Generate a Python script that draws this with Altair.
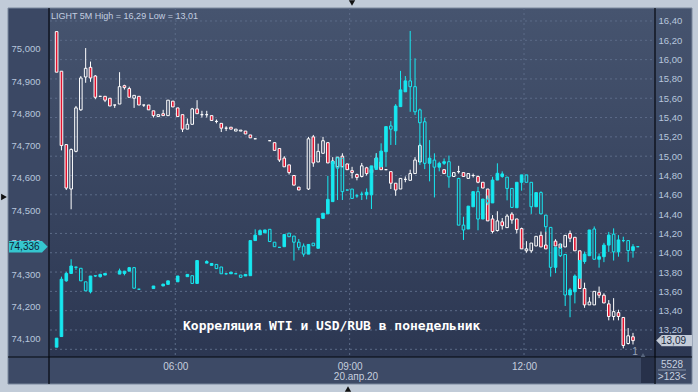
import altair as alt
import pandas as pd

# ---------------- data ----------------
slot_start_min = 235      # first 5-minute candle: 03:55
slot_minutes = 5

# LIGHT (WTI) 5M candles, right axis
wti_open = [16.29, 15.88, 15.12, 14.66, 15.05, 15.48, 15.82, 15.92, 15.83, 15.62,
            15.62, 15.60, 15.53, 15.54, 15.73, 15.70, 15.60, 15.62, 15.53, 15.53,
            15.47, 15.41, 15.44, 15.42, 15.57, 15.50, 15.43, 15.28, 15.33, 15.49,
            15.43, 15.43, 15.42, 15.36, 15.34, 15.29, 15.30, 15.26, 15.26, 15.26,
            15.22, 15.18, None, None, 15.16, 15.14, 15.08, 14.98, 14.91, 14.80,
            14.68, None, 14.66, 15.20, 14.94, 15.03, 15.14, 14.92, 14.89, 15.00,
            14.92, 14.85, 14.81, 14.79, 14.88, 14.83, 14.88, 14.94, 14.86, 14.84,
            14.72, 14.66, 14.76, 14.75, 14.82, 14.94, None, None, None, None,
            14.86, None, 14.79, 14.84, 14.83, 14.77, 14.80, 14.79, 14.73, 14.66,
            14.35, 14.23, 14.32, 14.26, 14.40, 14.35, 14.25, 14.02, 14.02, 14.07,
            14.18, 14.08, None, 14.12, 14.09, 14.06, 14.20, 14.16, 14.02, 13.63,
            13.46, 13.46, 13.59, 13.56, 13.47, 13.34, 13.38, 13.33, 13.06, 13.13]
wti_high = [16.29, 15.88, 15.12, 15.08, 15.52, 15.83, 16.12, 15.98, 15.84, 15.62,
            15.62, 15.60, 15.53, 15.87, 15.74, 15.72, 15.63, 15.62, 15.53, 15.53,
            15.47, 15.43, 15.48, 15.58, 15.57, 15.50, 15.43, 15.39, 15.50, 15.58,
            15.47, 15.47, 15.42, 15.38, 15.34, 15.31, 15.30, 15.28, 15.27, 15.26,
            15.22, 15.18, None, None, 15.16, 15.14, 15.08, 15.00, 14.91, 14.80,
            14.68, None, 15.20, 15.22, 15.13, 15.20, 15.14, 14.99, 14.99, 15.03,
            14.92, 14.89, 14.82, 14.93, 14.89, 14.87, 15.03, 14.94, 14.86, 14.84,
            14.72, 14.77, 14.79, 14.86, 14.99, 15.13, None, None, None, None,
            14.86, None, 14.83, 14.90, 14.83, 14.82, 14.82, 14.80, 14.73, 14.66,
            14.39, 14.43, 14.36, 14.40, 14.42, 14.35, 14.26, 14.12, 14.10, 14.17,
            14.22, 14.22, None, 14.14, 14.09, 14.18, 14.23, 14.16, 14.02, 13.69,
            13.54, 13.60, 13.65, 13.58, 13.51, 13.53, 13.41, 13.33, 13.22, 13.17]
wti_low = [15.87, 15.06, 14.65, 14.45, 15.04, 15.47, 15.76, 15.77, 15.59, 15.62,
           15.56, 15.52, 15.50, 15.54, 15.69, 15.61, 15.50, 15.53, 15.51, 15.48,
           15.40, 15.41, 15.42, 15.42, 15.51, 15.41, 15.25, 15.28, 15.33, 15.44,
           15.40, 15.40, 15.37, 15.34, 15.25, 15.26, 15.28, 15.26, 15.26, 15.23,
           15.19, 15.18, None, None, 15.16, 15.06, 14.94, 14.89, 14.81, 14.70,
           14.65, None, 14.65, 14.89, 14.94, 15.03, 14.93, 14.92, 14.89, 14.89,
           14.86, 14.77, 14.75, 14.78, 14.80, 14.83, 14.88, 14.86, 14.86, 14.66,
           14.59, 14.66, 14.73, 14.75, 14.82, 14.94, None, None, None, None,
           14.82, None, 14.79, 14.82, 14.79, 14.77, 14.78, 14.72, 14.67, 14.33,
           14.20, 14.22, 14.24, 14.26, 14.30, 14.20, 14.04, 14.00, 14.00, 14.07,
           14.06, 14.04, None, 14.07, 14.05, 14.06, 14.11, 14.02, 13.63, 13.43,
           13.46, 13.46, 13.53, 13.48, 13.30, 13.30, 13.30, 13.01, 13.05, 13.05]
wti_close = [15.87, 15.11, 14.67, 15.07, 15.50, 15.81, 15.91, 15.81, 15.61, 15.62,
             15.58, 15.52, 15.53, 15.72, 15.71, 15.61, 15.63, 15.53, 15.53, 15.48,
             15.42, 15.43, 15.42, 15.58, 15.51, 15.41, 15.28, 15.33, 15.49, 15.44,
             15.43, 15.43, 15.37, 15.36, 15.29, 15.29, 15.28, 15.28, 15.27, 15.23,
             15.19, 15.18, None, None, 15.16, 15.06, 14.96, 14.89, 14.83, 14.70,
             14.65, None, 15.18, 14.93, 15.05, 15.16, 14.93, 14.95, 14.99, 14.89,
             14.86, 14.83, 14.78, 14.90, 14.82, 14.86, 14.98, 14.86, 14.86, 14.72,
             14.65, 14.77, 14.76, 14.82, 14.96, 15.11, None, None, None, None,
             14.82, None, 14.83, 14.84, 14.79, 14.82, 14.80, 14.73, 14.67, 14.33,
             14.22, 14.33, 14.28, 14.38, 14.34, 14.24, 14.04, 14.04, 14.10, 14.17,
             14.06, 14.04, None, 14.07, 14.05, 14.18, 14.15, 14.02, 13.63, 13.46,
             13.49, 13.60, 13.56, 13.48, 13.34, 13.39, 13.34, 13.04, 13.14, 13.09]

# USD/RUB 5M candles, left axis
usd_open = [74.074, 74.107, 74.280, 74.303, 74.323, 74.319, 74.277, 74.246, 74.296, 74.293,
            74.298, None, None, 74.301, 74.303, 74.310, 74.321, 74.254, None, None,
            74.256, None, 74.264, 74.269, None, 74.277, None, 74.293, 74.296, 74.272,
            None, 74.335, 74.328, 74.331, 74.323, 74.302, 74.302, 74.302, 74.298, 74.295,
            74.296, 74.405, 74.423, 74.429, 74.440, 74.400, 74.384, 74.386, 74.428, 74.419,
            74.400, 74.388, 74.363, 74.397, 74.381, 74.474, 74.488, 74.526, 74.662, 74.661,
            74.562, 74.565, 74.544, 74.549, 74.547, 74.547, 74.626, 74.634, 74.681, 74.761,
            74.746, 74.821, 74.867, 74.901, 74.883, 74.811, 74.774, 74.645, 74.655, 74.633,
            74.645, 74.650, None, 74.598, 74.453, 74.441, 74.510, 74.557, 74.472, 74.534,
            74.522, 74.593, 74.604, 74.602, 74.567, 74.507, 74.586, 74.609, 74.586, 74.510,
            74.554, 74.484, 74.446, 74.322, 74.381, 74.362, 74.236, 74.246, 74.288, 74.340,
            74.358, 74.441, 74.347, 74.355, 74.391, 74.425, 74.370, 74.405, 74.405, 74.374,
            74.386]
usd_high = [74.102, 74.293, 74.308, 74.347, 74.323, 74.319, 74.277, 74.295, 74.296, 74.302,
            74.303, None, None, 74.318, 74.311, 74.323, 74.323, 74.254, None, None,
            74.264, None, 74.270, 74.280, None, 74.295, None, 74.300, 74.296, 74.343,
            None, 74.344, 74.334, 74.331, 74.323, 74.302, 74.307, 74.302, 74.298, 74.300,
            74.405, 74.440, 74.440, 74.438, 74.440, 74.400, 74.384, 74.424, 74.428, 74.419,
            74.410, 74.396, 74.393, 74.397, 74.474, 74.490, 74.606, 74.650, 74.662, 74.661,
            74.562, 74.565, 74.550, 74.557, 74.567, 74.637, 74.676, 74.707, 74.759, 74.776,
            74.829, 74.932, 74.916, 75.056, 74.971, 74.815, 74.787, 74.717, 74.676, 74.650,
            74.660, 74.669, None, 74.600, 74.479, 74.512, 74.557, 74.572, 74.534, 74.545,
            74.603, 74.645, 74.620, 74.602, 74.567, 74.586, 74.609, 74.609, 74.586, 74.554,
            74.558, 74.484, 74.446, 74.384, 74.396, 74.362, 74.258, 74.300, 74.343, 74.371,
            74.438, 74.449, 74.365, 74.398, 74.432, 74.443, 74.422, 74.417, 74.405, 74.394,
            74.386]
usd_low = [74.074, 74.107, 74.277, 74.303, 74.314, 74.280, 74.249, 74.241, 74.292, 74.290,
           74.298, None, None, 74.301, 74.297, 74.310, 74.257, 74.254, None, None,
           74.256, None, 74.264, 74.269, None, 74.277, None, 74.293, 74.272, 74.272,
           None, 74.335, 74.328, 74.318, 74.302, 74.299, 74.302, 74.302, 74.291, 74.295,
           74.296, 74.405, 74.423, 74.429, 74.402, 74.386, 74.384, 74.386, 74.417, 74.343,
           74.375, 74.355, 74.363, 74.389, 74.381, 74.474, 74.488, 74.526, 74.531, 74.531,
           74.562, 74.536, 74.538, 74.531, 74.533, 74.503, 74.626, 74.634, 74.634, 74.702,
           74.702, 74.821, 74.867, 74.805, 74.795, 74.640, 74.627, 74.589, 74.539, 74.620,
           74.640, 74.569, None, 74.453, 74.407, 74.441, 74.510, 74.437, 74.472, 74.515,
           74.522, 74.593, 74.600, 74.530, 74.508, 74.507, 74.560, 74.586, 74.488, 74.510,
           74.488, 74.432, 74.293, 74.304, 74.354, 74.202, 74.167, 74.210, 74.288, 74.333,
           74.358, 74.347, 74.321, 74.338, 74.370, 74.343, 74.355, 74.400, 74.339, 74.352,
           74.386]
usd_close = [74.102, 74.285, 74.303, 74.326, 74.322, 74.280, 74.249, 74.295, 74.295, 74.300,
             74.303, None, None, 74.311, 74.310, 74.321, 74.257, 74.254, None, None,
             74.264, None, 74.270, 74.280, None, 74.295, None, 74.300, 74.272, 74.343,
             None, 74.340, 74.334, 74.318, 74.302, 74.302, 74.307, 74.302, 74.291, 74.300,
             74.405, 74.422, 74.436, 74.438, 74.402, 74.386, 74.384, 74.424, 74.417, 74.400,
             74.384, 74.363, 74.393, 74.389, 74.474, 74.490, 74.533, 74.650, 74.630, 74.557,
             74.562, 74.536, 74.544, 74.549, 74.555, 74.637, 74.661, 74.683, 74.759, 74.751,
             74.823, 74.873, 74.901, 74.883, 74.805, 74.771, 74.645, 74.661, 74.633, 74.645,
             74.650, 74.603, None, 74.453, 74.438, 74.512, 74.557, 74.472, 74.534, 74.522,
             74.593, 74.614, 74.612, 74.567, 74.508, 74.586, 74.609, 74.586, 74.510, 74.554,
             74.488, 74.448, 74.322, 74.384, 74.358, 74.236, 74.252, 74.295, 74.343, 74.363,
             74.438, 74.347, 74.355, 74.391, 74.422, 74.370, 74.407, 74.405, 74.374, 74.386,
             74.386]

wti_label_ticks = [13.2, 13.4, 13.6, 13.8, 14.0, 14.2, 14.4, 14.6, 14.8, 15.0,
                   15.2, 15.4, 15.6, 15.8, 16.0, 16.2, 16.4]
wti_grid_ticks = [13.0] + wti_label_ticks
usd_ticks = [74.1, 74.2, 74.3, 74.4, 74.5, 74.6, 74.7, 74.8, 74.9, 75.0]
hour_ticks = [360, 540, 720]          # 06:00, 09:00, 12:00

header_text = "LIGHT 5M High = 16,29 Low = 13,01"
caption_text = "Корреляция WTI и USD/RUB в понедельник"
date_text = "20.апр.20"
usd_tag_text = "74,336"
wti_tag_text = "13,09"
corner_top = "5528"
corner_bottom = ">123<"
page_text = "1"


def candles(o, h, l, c):
    rows = []
    for i in range(len(o)):
        if o[i] is None:
            continue
        top = max(o[i], c[i])
        bot = min(o[i], c[i])
        rows.append(dict(t=slot_start_min + slot_minutes * i + 2.5,
                         o=o[i], c=c[i], h=max(h[i], top), l=min(l[i], bot),
                         top=top, bot=bot))
    return pd.DataFrame(rows)


wti_df = candles(wti_open, wti_high, wti_low, wti_close)
usd_df = candles(usd_open, usd_high, usd_low, usd_close)
one = pd.DataFrame({"k": [0]})

# ---------------- styling ----------------
CYAN = "#17e8f0"
RED = "#e2122e"
WHITE = "#ffffff"
GRID = "#5c6b88"
LABEL = "#b7c6dc"
FONT = "Liberation Sans"
FRAME = "#c1cbd8"
W, H = 605, 349

x_scale = alt.Scale(domain=[235.84, 850.05], nice=False, zero=False)
wti_scale = alt.Scale(domain=[12.9203, 16.5346], nice=False, zero=False)
usd_scale = alt.Scale(domain=[74.0435, 75.1273], nice=False, zero=False)

x_axis = alt.Axis(values=hour_ticks, title=None, grid=False, domain=False, ticks=False, tickSize=0,
                  labelExpr="(datum.value < 600 ? '0' : '') + floor(datum.value / 60) + ':00'",
                  labelColor="#c6cfdf", labelFont=FONT, labelFontSize=10, labelPadding=4,
                  labelFlush=False, zindex=1)
wti_axis = alt.Axis(orient="right", values=wti_label_ticks, title=None, grid=False, domain=False,
                    ticks=False, tickSize=0,
                    labelExpr="replace(format(datum.value, '.2f'), '.', ',')",
                    labelColor=LABEL, labelFont=FONT, labelFontSize=9.5, labelPadding=3,
                    labelOverlap=False, labelFlush=False, zindex=1)
# drawn behind the marks, so the price tag covers it as in the terminal
usd_axis = alt.Axis(orient="left", values=usd_ticks, title=None, grid=False, domain=False,
                    ticks=False, tickSize=0,
                    labelExpr="replace(format(datum.value, '.3f'), '.', ',')",
                    labelColor=LABEL, labelFont=FONT, labelFontSize=9.5, labelPadding=10,
                    labelOverlap=False, labelFlush=False, zindex=0)

X = alt.X("t:Q", scale=x_scale, axis=x_axis)


def px_rect(x1, x2, y1, y2, **kw):
    return alt.Chart(one).mark_rect(**kw).encode(
        x=alt.value(x1), x2=alt.value(x2), y=alt.value(y1), y2=alt.value(y2))


def px_rule(x1, x2, y1, y2, **kw):
    return alt.Chart(one).mark_rule(**kw).encode(
        x=alt.value(x1), x2=alt.value(x2), y=alt.value(y1), y2=alt.value(y2))


def px_text(txt, x, y, **kw):
    return alt.Chart(one).mark_text(text=txt, **kw).encode(x=alt.value(x), y=alt.value(y))


def px_symbol(shape, x, y, size, color):
    return alt.Chart(one).mark_point(shape=shape, size=size, filled=True, fill=color,
                                     opacity=1, strokeWidth=0).encode(
        x=alt.value(x), y=alt.value(y))


panel_fill = alt.Gradient(gradient="linear",
                          stops=[alt.GradientStop(color="#46546f", offset=0),
                                 alt.GradientStop(color="#2c3752", offset=1)],
                          x1=0, x2=0, y1=0, y2=1)

background = [
    # light terminal frame around the dark panel
    px_rect(-50, -42, -8, 384, fill=FRAME),
    px_rect(642, 648, -8, 384, fill=FRAME),
    px_rect(-50, 648, -8, 0, fill=FRAME),
    px_rect(-50, 648, 376, 384, fill=FRAME),
    # plot area and right price column
    px_rect(0, W, 0, H, fill=panel_fill),
    px_rect(W, 642, 0, H, fill=panel_fill),
    px_rect(-42, 642, H, 376, fill="#3d4a66"),
    px_rect(591, 604, H + 1, 375, fill="#27314a"),
    px_rect(-42, 642, 0, 376, fill="transparent", stroke="#7b889d", strokeWidth=1),
    px_rule(-1, -1, 0, 376, color="#05080f", strokeWidth=1.2),
    px_rule(605, 605, 0, 376, color="#05080f", strokeWidth=1.2),
    px_rule(-42, 642, H, H, color="#05080f", strokeWidth=1.2),
    px_rule(608, 636, 362, 362, color="#9aa6ba", strokeWidth=0.8),
]

grid_h = alt.Chart(pd.DataFrame({"v": wti_grid_ticks})).mark_rule(
    color=GRID, strokeDash=[2, 3], strokeWidth=1).encode(
    y=alt.Y("v:Q", scale=wti_scale, axis=wti_axis), x=alt.value(0), x2=alt.value(W))
grid_v = alt.Chart(pd.DataFrame({"t": hour_ticks})).mark_rule(
    color=GRID, strokeDash=[2, 3], strokeWidth=1).encode(
    x=X, y=alt.value(0), y2=alt.value(H))


def candle_layers(df, scale, axis, wick_color, fill_cond, stroke):
    Y = lambda f: alt.Y(f, scale=scale, axis=axis)
    upper = alt.Chart(df).mark_rule(color=wick_color, strokeWidth=1).encode(
        x=X, y=Y("h:Q"), y2="top:Q")
    lower = alt.Chart(df).mark_rule(color=wick_color, strokeWidth=1).encode(
        x=X, y=Y("bot:Q"), y2="l:Q")
    body = alt.Chart(df).mark_bar(size=2.6, stroke=stroke, strokeWidth=1).encode(
        x=X, y=Y("o:Q"), y2="c:Q", fill=fill_cond)
    return [upper, lower, body]


wti_candles = candle_layers(
    wti_df, wti_scale, wti_axis, WHITE,
    alt.condition("datum.c < datum.o", alt.value(RED), alt.value("transparent")), WHITE)
usd_candles = candle_layers(
    usd_df, usd_scale, usd_axis, CYAN,
    alt.condition("datum.c >= datum.o", alt.value(CYAN), alt.value("transparent")), CYAN)

# price tags
wti_tag_df = pd.DataFrame({"v": [wti_close[-1]], "label": [wti_tag_text]})
usd_tag_df = pd.DataFrame({"v": [usd_close[-1]], "label": [usd_tag_text]})

wti_tag = [
    alt.Chart(wti_tag_df).mark_rect(fill="#c4ccd8", yOffset=-5.6, y2Offset=5.6).encode(
        x=alt.value(611.5), x2=alt.value(642), y=alt.Y("v:Q", scale=wti_scale, axis=wti_axis), y2="v:Q"),
    alt.Chart(wti_tag_df).mark_point(shape="M0.5,-1L-0.5,0L0.5,1Z", size=125, filled=True,
                                     fill="#c4ccd8", opacity=1, strokeWidth=0).encode(
        x=alt.value(609), y=alt.Y("v:Q", scale=wti_scale, axis=wti_axis)),
    alt.Chart(wti_tag_df).mark_text(align="left", baseline="middle", font=FONT, fontSize=10,
                                    color="#1b2940").encode(
        x=alt.value(611), y=alt.Y("v:Q", scale=wti_scale, axis=wti_axis), text="label:N"),
]
usd_tag = [
    alt.Chart(usd_tag_df).mark_rect(fill="#35c6cf", yOffset=-5.8, y2Offset=5.8).encode(
        x=alt.value(-41), x2=alt.value(-7.8), y=alt.Y("v:Q", scale=usd_scale, axis=usd_axis), y2="v:Q"),
    alt.Chart(usd_tag_df).mark_point(shape="M-0.5,-1L0.5,0L-0.5,1Z", size=135, filled=True,
                                     fill="#35c6cf", opacity=1, strokeWidth=0).encode(
        x=alt.value(-5.2), y=alt.Y("v:Q", scale=usd_scale, axis=usd_axis)),
    alt.Chart(usd_tag_df).mark_text(align="left", baseline="middle", font=FONT, fontSize=10,
                                    color="#0f2235").encode(
        x=alt.value(-41), y=alt.Y("v:Q", scale=usd_scale, axis=usd_axis), text="label:N"),
]

texts = [
    px_text(header_text, 1, 7.5, align="left", baseline="middle", font=FONT, fontSize=9,
            color="#c3cee0"),
    px_text(caption_text, 133, 318, align="left", baseline="middle", font="DejaVu Sans Mono",
            fontSize=13, fontWeight="bold", color=WHITE),
    px_text(date_text, 306, 369, align="center", baseline="middle", font=FONT, fontSize=10,
            color="#c6cfdf"),
    px_text(corner_top, 622, 357, align="center", baseline="middle", font=FONT, fontSize=10,
            color="#c6cfdf"),
    px_text(corner_bottom, 622, 369, align="center", baseline="middle", font=FONT, fontSize=10,
            color="#c6cfdf"),
    px_text(page_text, 585, 344, align="center", baseline="middle", font=FONT, fontSize=10,
            color="#95a3b8"),
    px_symbol("triangle-up", 593, 347, 22, "#56647c"),
    px_symbol("triangle-down", 302, -5, 40, "#111111"),
    px_symbol("triangle-up", 298, 381, 40, "#111111"),
    px_symbol("triangle-right", -46, 189, 45, "#111111"),
]

wti_group = alt.layer(*background, grid_h, grid_v, *wti_candles, *wti_tag)
usd_group = alt.layer(*usd_candles, *usd_tag, *texts)

chart = alt.layer(wti_group, usd_group).resolve_scale(y="independent").properties(
    width=W, height=H,
    padding={"left": 50, "top": 8, "right": 43, "bottom": 35},
    autosize=alt.AutoSizeParams(type="none"),
    background="#3b4864",
).configure_view(stroke="transparent")

chart.save("out.html", embed_options={"renderer": "svg", "actions": False})
